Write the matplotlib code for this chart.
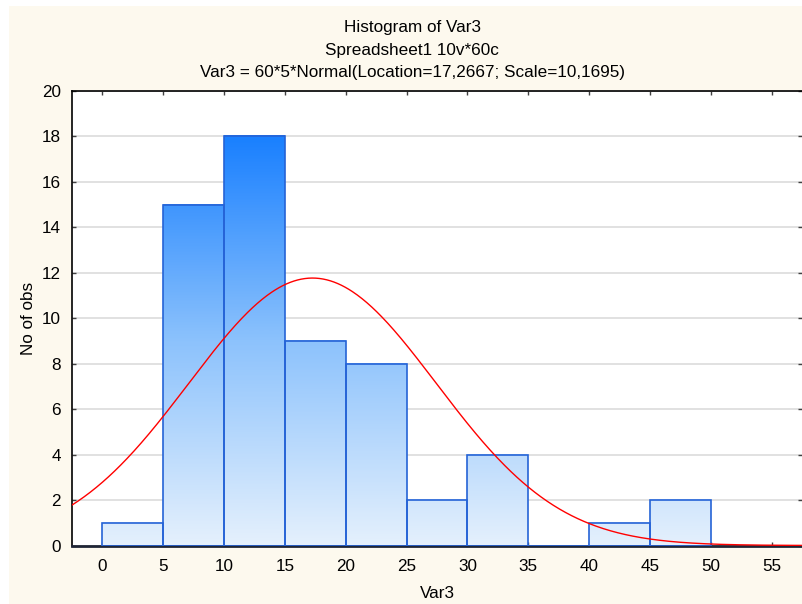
import numpy as np
import matplotlib
matplotlib.use("Agg")
import matplotlib.pyplot as plt
from matplotlib.colors import LinearSegmentedColormap
from matplotlib.patches import Rectangle

plt.rcParams['font.family'] = ['Liberation Sans', 'DejaVu Sans']

# Data
bin_edges = [0, 5, 10, 15, 20, 25, 30, 35, 40, 45, 50]
counts = [1, 15, 18, 9, 8, 2, 4, 0, 1, 2]
n_obs = 60
bin_width = 5
loc = 17.2667
scale = 10.1695
x_ticks = [0, 5, 10, 15, 20, 25, 30, 35, 40, 45, 50, 55]
y_ticks = [0, 2, 4, 6, 8, 10, 12, 14, 16, 18, 20]
titles = ["Histogram of Var3", "Spreadsheet1 10v*60c",
          "Var3 = 60*5*Normal(Location=17,2667; Scale=10,1695)"]

FS = 12.3
W, H = 802, 604
fig = plt.figure(figsize=(W / 100, H / 100), dpi=100)
fig.patch.set_facecolor('white')
fig.patches.append(Rectangle((9 / W, 0), 1 - 9 / W, 1 - 6 / H, transform=fig.transFigure,
                             facecolor='#fdf9ee', edgecolor='none', zorder=-10))

ax = fig.add_axes([72 / W, 1 - 545.5 / H, (802 - 72) / W, (545.5 - 91) / H])
ax.set_facecolor('white')

cmap = LinearSegmentedColormap.from_list('g', [(0, '#e4f0fd'), (0.5, '#8cc2fc'), (1, '#1a80ff')])

for i, c in enumerate(counts):
    x0, x1 = bin_edges[i], bin_edges[i + 1]
    if c > 0:
        ax.imshow(np.linspace(0, c / 18, 100).reshape(-1, 1), cmap=cmap, vmin=0, vmax=1,
                  extent=(x0, x1, 0, c), origin='lower', aspect='auto', zorder=2,
                  interpolation='bilinear')
    ax.add_patch(Rectangle((x0, 0), x1 - x0, c, facecolor='none', edgecolor='#2563d6',
                           linewidth=1.2, zorder=3))

xs = np.linspace(-2.5, 57.5, 600)
ys = n_obs * bin_width / (scale * np.sqrt(2 * np.pi)) * np.exp(-0.5 * ((xs - loc) / scale) ** 2)
ax.plot(xs, ys, color='#ff0000', linewidth=1.0, zorder=4)

ax.set_xlim(-2.5, 57.5)
ax.set_ylim(0, 20)
ax.set_xticks(x_ticks)
ax.set_yticks(y_ticks)
ax.yaxis.grid(True, color='#dcdcdc', linewidth=1.2, zorder=0)
ax.set_axisbelow(True)
ax.tick_params(axis='both', direction='in', length=3, width=1, color='#404040',
               labelsize=FS, top=True, right=True, labeltop=False, labelright=False)
ax.tick_params(axis='x', pad=9.5)
ax.tick_params(axis='y', pad=8)
for s in ['left', 'top']:
    ax.spines[s].set_color('#000000')
    ax.spines[s].set_linewidth(1.2)
ax.spines['bottom'].set_color('#1f2535')
ax.spines['bottom'].set_linewidth(2)
ax.spines['right'].set_visible(False)

ax.set_xlabel('Var3', fontsize=FS, labelpad=8.5)
ax.set_ylabel('No of obs', fontsize=FS, labelpad=4)

for k, t in enumerate(titles):
    fig.text(412 / W, 1 - (32 + 22.5 * k) / H, t, ha='center', va='baseline', fontsize=FS)

fig.savefig('out.png', dpi=100, facecolor=fig.get_facecolor())
